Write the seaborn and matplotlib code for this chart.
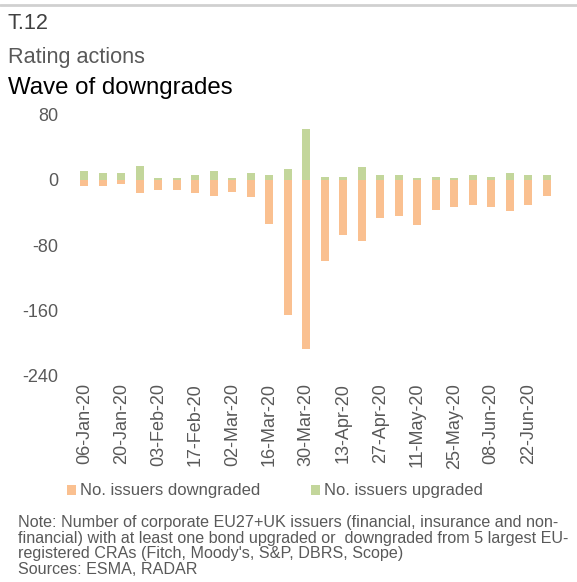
import matplotlib
matplotlib.use("Agg")
import matplotlib.pyplot as plt
from matplotlib.patches import Patch
from matplotlib.lines import Line2D
import pandas as pd
import seaborn as sns

weeks = ["06-Jan-20", "13-Jan-20", "20-Jan-20", "27-Jan-20", "03-Feb-20", "10-Feb-20",
         "17-Feb-20", "24-Feb-20", "02-Mar-20", "09-Mar-20", "16-Mar-20", "23-Mar-20",
         "30-Mar-20", "06-Apr-20", "13-Apr-20", "20-Apr-20", "27-Apr-20", "04-May-20",
         "11-May-20", "18-May-20", "25-May-20", "01-Jun-20", "08-Jun-20", "15-Jun-20",
         "22-Jun-20", "29-Jun-20"]
downgraded = [8, 8, 6, 16, 13, 13, 16, 20, 15, 21, 54, 166,
              207, 99, 68, 75, 47, 45, 55, 37, 34, 31, 34, 39,
              31, 20]
upgraded = [11, 8, 8, 16, 2, 2, 5, 10, 2, 8, 5, 13,
            62, 3, 3, 15, 5, 5, 2, 3, 2, 5, 3, 8,
            6, 5]

lab_down = "No. issuers downgraded"
lab_up = "No. issuers upgraded"
orange = "#FAC090"
green = "#C3D69B"

df = pd.concat([
    pd.DataFrame({"week": weeks, "value": [-v for v in downgraded], "series": lab_down}),
    pd.DataFrame({"week": weeks, "value": upgraded, "series": lab_up}),
])

sns.set_style("white")
plt.rcParams["font.family"] = ["Liberation Sans", "DejaVu Sans"]
plt.rcParams["axes.unicode_minus"] = False

fig = plt.figure(figsize=(5.77, 5.82), dpi=100)
ax = fig.add_axes([0.130, 0.354, 0.8336, 0.450])

sns.barplot(data=df, x="week", y="value", hue="series", order=weeks,
            hue_order=[lab_down, lab_up], palette=[orange, green], saturation=1,
            dodge=False, width=0.43, legend=False, ax=ax, linewidth=0)

ax.set_ylim(-240, 80)
ax.set_yticks([-240, -160, -80, 0, 80])
ax.set_xlim(-0.5, len(weeks) - 0.5)
ax.set_xticks(range(0, len(weeks), 2))
ax.set_xticklabels(weeks[::2], rotation=90)
ax.set_xlabel("")
ax.set_ylabel("")
for s in ax.spines.values():
    s.set_visible(False)
ax.tick_params(axis="y", length=0, pad=12, labelsize=13, colors="#595959")
ax.tick_params(axis="x", length=0, pad=5, labelsize=13, colors="#595959")

# header
fig.add_artist(Line2D([0, 1], [0.992, 0.992], color="#d0d0d0", lw=2))
fig.text(0.013, 1 - 13 / 582, "T.12", fontsize=15.6, color="#404040", va="top")
fig.text(0.013, 1 - 47 / 582, "Rating actions", fontsize=15.6, color="#595959", va="top")
fig.text(0.013, 1 - 77 / 582, "Wave of downgrades", fontsize=17.3, color="black", va="top")

handles = [Patch(facecolor=orange, edgecolor="none", label=lab_down),
           Patch(facecolor=green, edgecolor="none", label=lab_up)]
fig.legend(handles=handles, loc="center", bbox_to_anchor=(275 / 577, 1 - 491 / 582),
           ncol=2, frameon=False, fontsize=12, handlelength=0.55, handleheight=0.55,
           handletextpad=0.25, columnspacing=3.0, labelcolor="#595959")

note = ("Note: Number of corporate EU27+UK issuers (financial, insurance and non-\n"
        "financial) with at least one bond upgraded or  downgraded from 5 largest EU-\n"
        "registered CRAs (Fitch, Moody's, S&P, DBRS, Scope)\n"
        "Sources: ESMA, RADAR")
fig.text(18 / 577, 1 - 515 / 582, note, fontsize=11.6, color="#595959", va="top",
         linespacing=1.05)

fig.savefig("out.png", dpi=100)
